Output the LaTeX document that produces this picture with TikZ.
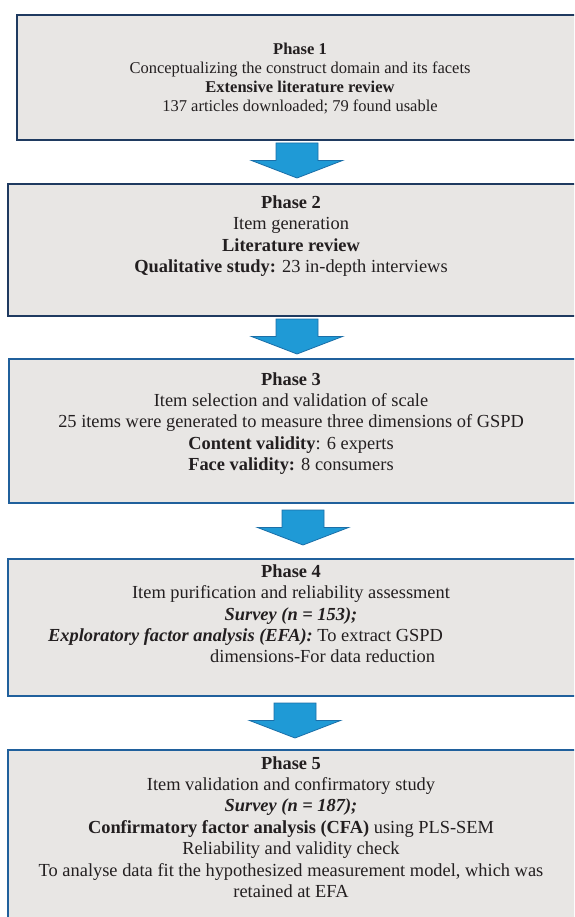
\documentclass[tikz,border=0pt]{standalone}
\usepackage{fontspec}
\setmainfont{Liberation Serif}
\definecolor{boxfill}{RGB}{232,230,228}
\definecolor{navyline}{RGB}{31,58,96}
\definecolor{blueline}{RGB}{32,96,156}
\definecolor{arrowfill}{RGB}{31,154,214}
\definecolor{arrowline}{RGB}{27,111,168}
\definecolor{inktext}{RGB}{35,31,32}
\tikzset{
  phasebox/.style={draw=#1, fill=boxfill, line width=1.8pt, rectangle, anchor=north west, inner sep=0pt},
  blockarrow/.style={fill=arrowfill, draw=arrowline, line width=0.8pt, line join=miter},
  txt/.style={anchor=base, inner sep=0pt, text=inktext, font=\fontsize{18.4}{21.4}\selectfont},
  txtsmall/.style={anchor=base, inner sep=0pt, text=inktext, font=\fontsize{16.5}{19}\selectfont},
}
\begin{document}
\begin{tikzpicture}[x=1pt,y=1pt]
\useasboundingbox (0,0) rectangle (574,-917);
\clip (0,0) rectangle (574,-917);
% boxes
\node[phasebox=navyline, minimum width=570pt, minimum height=125pt] (b1) at (16,-14) {};
\node[phasebox=navyline, minimum width=580pt, minimum height=132pt] (b2) at (7,-183) {};
\node[phasebox=blueline, minimum width=580pt, minimum height=144pt] (b3) at (8,-358) {};
\node[phasebox=blueline, minimum width=580pt, minimum height=137pt] (b4) at (7,-558) {};
\node[phasebox=blueline, minimum width=580pt, minimum height=185pt] (b5) at (7,-749) {};
% arrows
\coordinate (a1) at (297,-143);
\coordinate (a2) at (297,-319);
\coordinate (a3) at (303,-510);
\coordinate (a4) at (295,-703);
\foreach \a in {a1,a2,a3,a4}{
  \draw[blockarrow] (\a) ++(-21,0) -- ++(0,-17.5) -- ++(-24.5,0) -- ++(45.5,-17.5) -- ++(45.5,17.5) -- ++(-24.5,0) -- ++(0,17.5) -- cycle;
}
% box 1 text
\node[txtsmall] (t11) at (300,-55) {\textbf{Phase 1}};
\node[txtsmall] (t12) at (300,-74) {Conceptualizing the construct domain and its facets};
\node[txtsmall] (t13) at (300,-92.7) {\textbf{Extensive literature review}};
\node[txtsmall] (t14) at (300,-111.7) {137 articles downloaded; 79 found usable};
% box 2 text
\node[txt] (t21) at (291,-208.3) {\textbf{Phase 2}};
\node[txt] (t22) at (291,-229.7) {Item generation};
\node[txt] (t23) at (291,-251.1) {\textbf{Literature review}};
\node[txt] (t24) at (291,-272.5) {\textbf{Qualitative study:} 23 in-depth interviews};
% box 3 text
\node[txt] (t31) at (291,-385) {\textbf{Phase 3}};
\node[txt] (t32) at (291,-406.4) {Item selection and validation of scale};
\node[txt] (t33) at (291,-427.8) {25 items were generated to measure three dimensions of GSPD};
\node[txt] (t34) at (291,-449.2) {\textbf{Content validity}: 6 experts};
\node[txt] (t35) at (291,-470.6) {\textbf{Face validity:} 8 consumers};
% box 4 text
\node[txt] (t41) at (291,-577.3) {\textbf{Phase 4}};
\node[txt] (t42) at (291,-598.7) {Item purification and reliability assessment};
\node[txt] (t43) at (291,-620.1) {\textbf{\textit{Survey (n = 153);}}};
\node[txt, anchor=base west] (t44) at (48,-641.5) {\textbf{\textit{Exploratory factor analysis (EFA):}} To extract GSPD};
\node[txt, anchor=base west] (t45) at (210,-662.9) {dimensions-For data reduction};
% box 5 text
\node[txt] (t51) at (291,-769) {\textbf{Phase 5}};
\node[txt] (t52) at (291,-790.4) {Item validation and confirmatory study};
\node[txt] (t53) at (291,-811.8) {\textbf{\textit{Survey (n = 187);}}};
\node[txt] (t54) at (291,-833.2) {\textbf{Confirmatory factor analysis (CFA)} using PLS-SEM};
\node[txt] (t55) at (291,-854.6) {Reliability and validity check};
\node[txt] (t56) at (291,-876) {To analyse data fit the hypothesized measurement model, which was};
\node[txt] (t57) at (291,-897.4) {retained at EFA};
\end{tikzpicture}
\end{document}
